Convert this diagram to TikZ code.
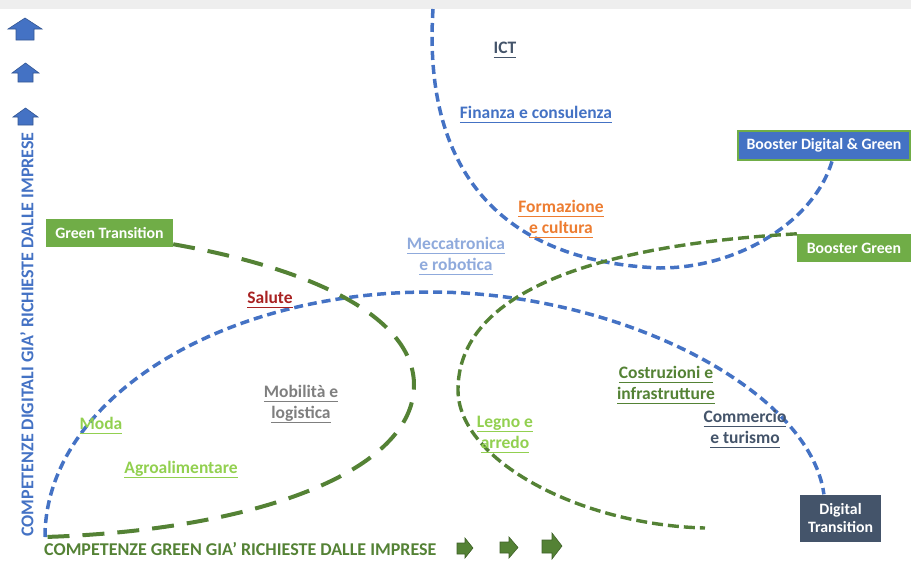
\documentclass[tikz,border=0pt]{standalone}
\usepackage{fontspec}
\setmainfont{Carlito}
\definecolor{offblue}{HTML}{4472C4}
\definecolor{lightblue}{HTML}{8FAADC}
\definecolor{boxgreen}{HTML}{70AD47}
\definecolor{darkgreen}{HTML}{548235}
\definecolor{limegreen}{HTML}{92D050}
\definecolor{slate}{HTML}{44546A}
\definecolor{offorange}{HTML}{ED7D31}
\definecolor{darkred}{HTML}{A82222}
\definecolor{midgray}{HTML}{7F7F7F}
\definecolor{topgray}{HTML}{EEEEEE}
\newcommand\ulbl[1]{\leavevmode\setbox0\hbox{#1}\rlap{\rule[-4.6pt]{\wd0}{1.3pt}}\box0}

\begin{document}
\begin{tikzpicture}[x=1pt, y=-1pt,
    box/.style={fill=boxgreen, text=white, inner sep=0pt, align=center, font=\bfseries\fontsize{15.8}{18}\selectfont},
    lbl/.style={inner sep=0pt, align=center, font=\bfseries\fontsize{17.5}{21}\selectfont},
    axis/.style={inner sep=0pt, font=\bfseries\fontsize{18}{21}\selectfont},
    bluedash/.style={draw=offblue, line width=3.5pt, dash pattern=on 9pt off 5pt},
    greendash/.style={draw=darkgreen, line width=3.4pt, dash pattern=on 11pt off 5pt},
    longdash/.style={draw=darkgreen, line width=4pt, dash pattern=on 22pt off 13pt},
    uparrow/.style={fill=offblue, draw=offblue!75!black, line width=0.6pt},
    rightarrow/.style={fill=darkgreen, draw=darkgreen!75!black, line width=0.6pt}]
    \useasboundingbox (0,0) rectangle (911,560);
    \fill[topgray] (0,0) rectangle (911,9);

    % boxes
    \node[box, minimum width=127pt, minimum height=28pt] (gt) at (109.5,233) {Green Transition};
    \node[box, fill=offblue, draw=boxgreen, line width=2pt, minimum width=172pt, minimum height=29pt] (bdg) at (824,145) {Booster Digital \& Green};
    \node[box, minimum width=114pt, minimum height=28pt] (bg) at (854,248) {Booster Green};
    \node[box, fill=slate, minimum width=81pt, minimum height=47pt] (dt) at (840.5,518) {Digital\\Transition};

    \coordinate (origin) at (45,537);
    \coordinate (icttop) at (433,9);
    \coordinate (bgend) at (705,528);

    % curves
    \draw[bluedash] (origin) .. controls (45,402) and (217,292) .. (430,292)
        .. controls (620,292) and (810,390) .. (dt.125);
    \draw[bluedash] (icttop) .. controls (422,180) and (510,262) .. (660,268)
        .. controls (740,268) and (815,220) .. (bdg.-62);
    \draw[longdash] (gt.-10) .. controls (320,270) and (414,320) .. (414,385)
        .. controls (414,470) and (260,530) .. (origin);
    \draw[greendash] (bg.north west) .. controls (600,245) and (458,290) .. (458,390)
        .. controls (458,460) and (580,525) .. (bgend);

    % sectors
    \node[lbl, text=slate] (ict) at (505,50) {\ulbl{ICT}};
    \node[lbl, text=offblue] (fin) at (536,115) {\ulbl{Finanza e consulenza}};
    \node[lbl, text=offorange] (form) at (561,219) {\ulbl{Formazione}\\\ulbl{e cultura}};
    \node[lbl, text=lightblue] (mecc) at (456,256) {\ulbl{Meccatronica}\\\ulbl{e robotica}};
    \node[lbl, text=darkred] (sal) at (270,300) {\ulbl{Salute}};
    \node[lbl, text=midgray] (mob) at (301,404) {\ulbl{Mobilità e}\\\ulbl{logistica}};
    \node[lbl, text=limegreen] (moda) at (101,426) {\ulbl{Moda}};
    \node[lbl, text=limegreen] (agro) at (181,470) {\ulbl{Agroalimentare}};
    \node[lbl, text=limegreen] (legno) at (505,435) {\ulbl{Legno e}\\\ulbl{arredo}};
    \node[lbl, text=darkgreen] (costr) at (666,385) {\ulbl{Costruzioni e}\\\ulbl{infrastrutture}};
    \node[lbl, text=slate] (comm) at (745,429) {\ulbl{Commercio}\\\ulbl{e turismo}};

    % axes
    \node[axis, text=offblue, rotate=90, anchor=west] (ylab) at (27,537) {COMPETENZE DIGITALI GIA’ RICHIESTE DALLE IMPRESE};
    \node[axis, text=darkgreen, anchor=west] (xlab) at (44,549.5) {COMPETENZE GREEN GIA’ RICHIESTE DALLE IMPRESE};

    \fill[uparrow] (25,18) -- (42,29) -- (34,29) -- (34,40) -- (16,40) -- (16,29) -- (8,29) -- cycle;
    \fill[uparrow] (25.5,63) -- (39,73) -- (33,73) -- (33,82) -- (18,82) -- (18,73) -- (12,73) -- cycle;
    \fill[uparrow] (25.5,108) -- (38,117) -- (33,117) -- (33,125) -- (18,125) -- (18,117) -- (13,117) -- cycle;
    \fill[rightarrow] (457,543) -- (465,543) -- (465,538) -- (473,548) -- (465,558) -- (465,554) -- (457,554) -- cycle;
    \fill[rightarrow] (500,542) -- (509,542) -- (509,537) -- (518,547.5) -- (509,558) -- (509,553) -- (500,553) -- cycle;
    \fill[rightarrow] (542,540) -- (552,540) -- (552,533) -- (562,546) -- (552,559) -- (552,553) -- (542,553) -- cycle;
\end{tikzpicture}
\end{document}
